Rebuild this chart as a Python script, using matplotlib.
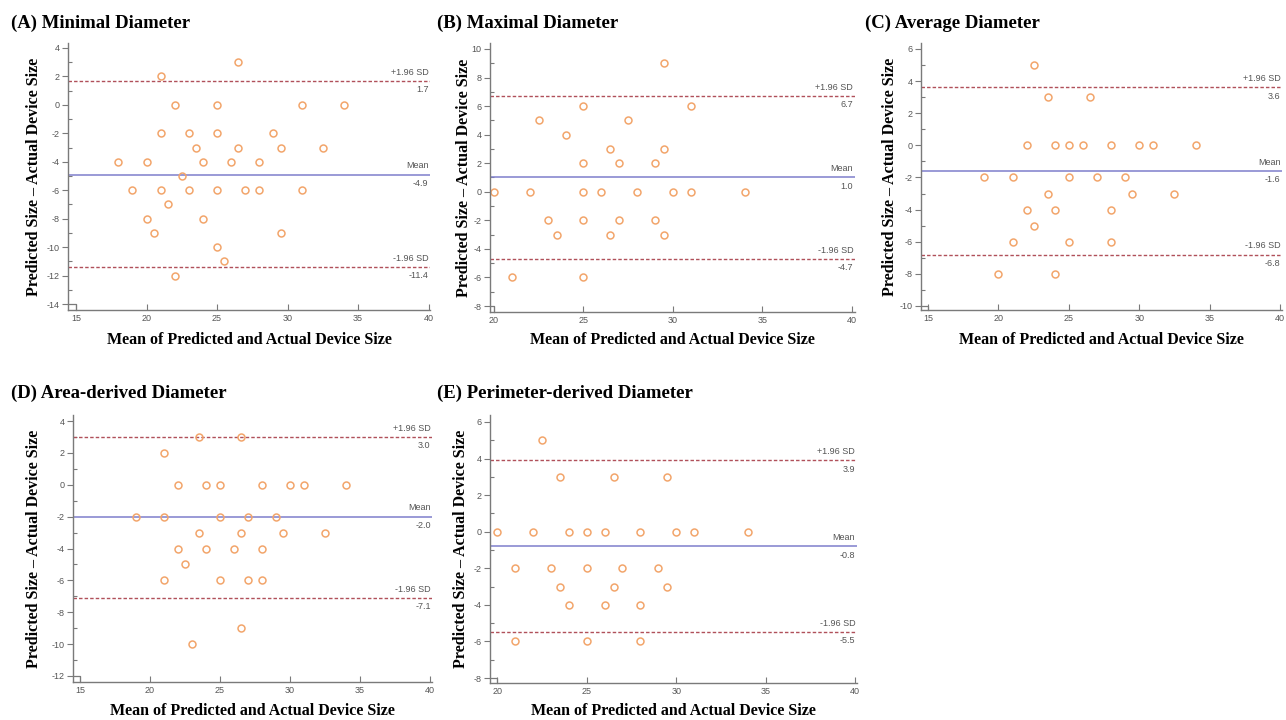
import matplotlib
matplotlib.use("Agg")
import matplotlib.pyplot as plt
from matplotlib.ticker import MultipleLocator

plt.rcParams["axes.unicode_minus"] = False

# ---------------- data ----------------
titles = ["(A) Minimal Diameter", "(B) Maximal Diameter", "(C) Average Diameter",
          "(D) Area-derived Diameter", "(E) Perimeter-derived Diameter"]

a_x = [26.5, 21, 22, 25, 31, 34, 21, 23, 25, 29, 23.5, 26.5, 29.5, 32.5, 18, 20, 24, 26, 28,
       22.5, 19, 21, 23, 25, 27, 28, 31, 21.5, 20, 24, 20.5, 29.5, 25, 25.5, 22]
a_y = [3, 2, 0, 0, 0, 0, -2, -2, -2, -2, -3, -3, -3, -3, -4, -4, -4, -4, -4,
       -5, -6, -6, -6, -6, -6, -6, -6, -7, -8, -8, -9, -9, -10, -11, -12]
a_lines = [1.7, -4.9, -11.4]

b_x = [29.5, 25, 31, 22.5, 27.5, 24, 26.5, 29.5, 25, 27, 29, 20, 22, 25, 26, 28, 30, 31, 34,
       23, 25, 27, 29, 23.5, 26.5, 29.5, 21, 25]
b_y = [9, 6, 6, 5, 5, 4, 3, 3, 2, 2, 2, 0, 0, 0, 0, 0, 0, 0, 0,
       -2, -2, -2, -2, -3, -3, -3, -6, -6]
b_lines = [6.7, 1.0, -4.7]

c_x = [22.5, 23.5, 26.5, 22, 24, 25, 26, 28, 30, 31, 34, 19, 21, 25, 27, 29, 23.5, 29.5, 32.5,
       22, 24, 28, 22.5, 21, 25, 28, 20, 24]
c_y = [5, 3, 3, 0, 0, 0, 0, 0, 0, 0, 0, -2, -2, -2, -2, -2, -3, -3, -3,
       -4, -4, -4, -5, -6, -6, -6, -8, -8]
c_lines = [3.6, -1.6, -6.8]

d_x = [23.5, 26.5, 21, 22, 24, 25, 28, 30, 31, 34, 19, 21, 25, 27, 29, 23.5, 26.5, 29.5, 32.5,
       22, 24, 26, 28, 22.5, 21, 25, 27, 28, 26.5, 23]
d_y = [3, 3, 2, 0, 0, 0, 0, 0, 0, 0, -2, -2, -2, -2, -2, -3, -3, -3, -3,
       -4, -4, -4, -4, -5, -6, -6, -6, -6, -9, -10]
d_lines = [3.0, -2.0, -7.1]

e_x = [22.5, 23.5, 26.5, 29.5, 20, 22, 24, 25, 26, 28, 30, 31, 34, 21, 23, 25, 27, 29,
       23.5, 26.5, 29.5, 24, 26, 28, 21, 25, 28]
e_y = [5, 3, 3, 3, 0, 0, 0, 0, 0, 0, 0, 0, 0, -2, -2, -2, -2, -2,
       -3, -3, -3, -4, -4, -4, -6, -6, -6]
e_lines = [3.9, -0.8, -5.5]

xticks_list = [[15, 20, 25, 30, 35, 40], [20, 25, 30, 35, 40], [15, 20, 25, 30, 35, 40],
               [15, 20, 25, 30, 35, 40], [20, 25, 30, 35, 40]]
yranges = [(-14, 4), (-8, 10), (-10, 6), (-12, 4), (-8, 6)]

line_labels = ["+1.96 SD", "Mean", "-1.96 SD"]
xlabel = "Mean of Predicted and Actual Device Size"
ylabel = "Predicted Size \u2013 Actual Device Size"

# ---------------- layout (pixels) ----------------
W, H = 1286, 720
boxes = [(68, 430, 43, 310), (490, 855, 43, 312), (921, 1282, 43, 310),
         (73, 432, 415, 682), (490, 857, 415, 683)]
xlims = [(14.43, 40.1), (19.78, 40.17), (14.5, 40.14), (14.5, 40.14), (19.6, 40.1)]
ylims = [(-14.42, 4.35), (-8.42, 10.42), (-10.25, 6.37), (-12.38, 4.38), (-8.27, 6.38)]
title_pos = [(11, 23), (437, 23), (865, 23), (11, 393), (437, 393)]
ylabel_x = [42, 472, 898, 42, 469]      # right edge of rotated y label (px)
xlabel_y = [332, 332, 332, 703, 703]    # top of x label (px)

xs = [a_x, b_x, c_x, d_x, e_x]
ys = [a_y, b_y, c_y, d_y, e_y]
lines = [a_lines, b_lines, c_lines, d_lines, e_lines]

serif = ["Liberation Serif", "DejaVu Serif"]
sans = ["Liberation Sans", "DejaVu Sans"]

fig = plt.figure(figsize=(W / 100, H / 100), dpi=100)
fig.patch.set_facecolor("white")

gray = "#7a7a7a"
marker_c = "#f2a56b"
dash_c = "#b0505a"
mean_c = "#7f7fcc"

for i in range(5):
    l, r, t, b = boxes[i]
    ax = fig.add_axes([l / W, 1 - b / H, (r - l) / W, (b - t) / H])
    ax.set_xlim(*xlims[i])
    ax.set_ylim(*ylims[i])
    ax.set_facecolor("white")
    for s in ["top", "right"]:
        ax.spines[s].set_visible(False)
    for s in ["left", "bottom"]:
        ax.spines[s].set_color(gray)
        ax.spines[s].set_linewidth(1.0)

    ax.set_xticks(xticks_list[i])
    y0, y1 = yranges[i]
    ax.set_yticks(list(range(y0, y1 + 1, 2)))
    ax.yaxis.set_minor_locator(MultipleLocator(1))
    ax.tick_params(axis="x", direction="in", length=4, width=0.8, color=gray,
                   labelsize=6.5, labelcolor="#555555", pad=3)
    ax.tick_params(axis="y", which="major", direction="out", length=4, width=0.8,
                   color=gray, labelsize=6.5, labelcolor="#555555", pad=2)
    ax.tick_params(axis="y", which="minor", direction="in", length=3, width=0.8, color=gray)
    for lab in ax.get_xticklabels() + ax.get_yticklabels():
        lab.set_family(sans)

    # corner bracket
    x0 = xticks_list[i][0]
    ax.plot([xlims[i][0], x0, x0], [y0, y0, ylims[i][0]], color=gray, lw=0.9,
            clip_on=False)

    up, mean, lo = lines[i]
    ax.axhline(up, color=dash_c, lw=1.0, ls=(0, (2.5, 1.5)))
    ax.axhline(lo, color=dash_c, lw=1.0, ls=(0, (2.5, 1.5)))
    ax.axhline(mean, color=mean_c, lw=1.1)

    ax.plot(xs[i], ys[i], "o", ms=5, mfc="none", mec=marker_c, mew=1.1)

    xr = xlims[i][1] - 0.1
    for val, lab in zip([up, mean, lo], line_labels):
        ax.annotate(lab, (xr, val), xytext=(0, 3), textcoords="offset points",
                    ha="right", va="bottom", fontsize=6.5, color="#555555", family=sans)
        ax.annotate(f"{val:.1f}", (xr, val), xytext=(0, -3), textcoords="offset points",
                    ha="right", va="top", fontsize=6.5, color="#555555", family=sans)

    ax.set_xlabel(xlabel, fontsize=11.5, fontweight="bold", family=serif)
    ax.xaxis.set_label_coords(0.5, (b - xlabel_y[i]) / (b - t))
    ax.set_ylabel(ylabel, fontsize=11.5, fontweight="bold", family=serif)
    ax.yaxis.set_label_coords((ylabel_x[i] - l) / (r - l), 0.5)

    tx, ty = title_pos[i]
    fig.text(tx / W, 1 - ty / H, titles[i], fontsize=13.5, fontweight="bold",
             family=serif, ha="left", va="center")

fig.savefig("out.png", dpi=100, facecolor="white")
